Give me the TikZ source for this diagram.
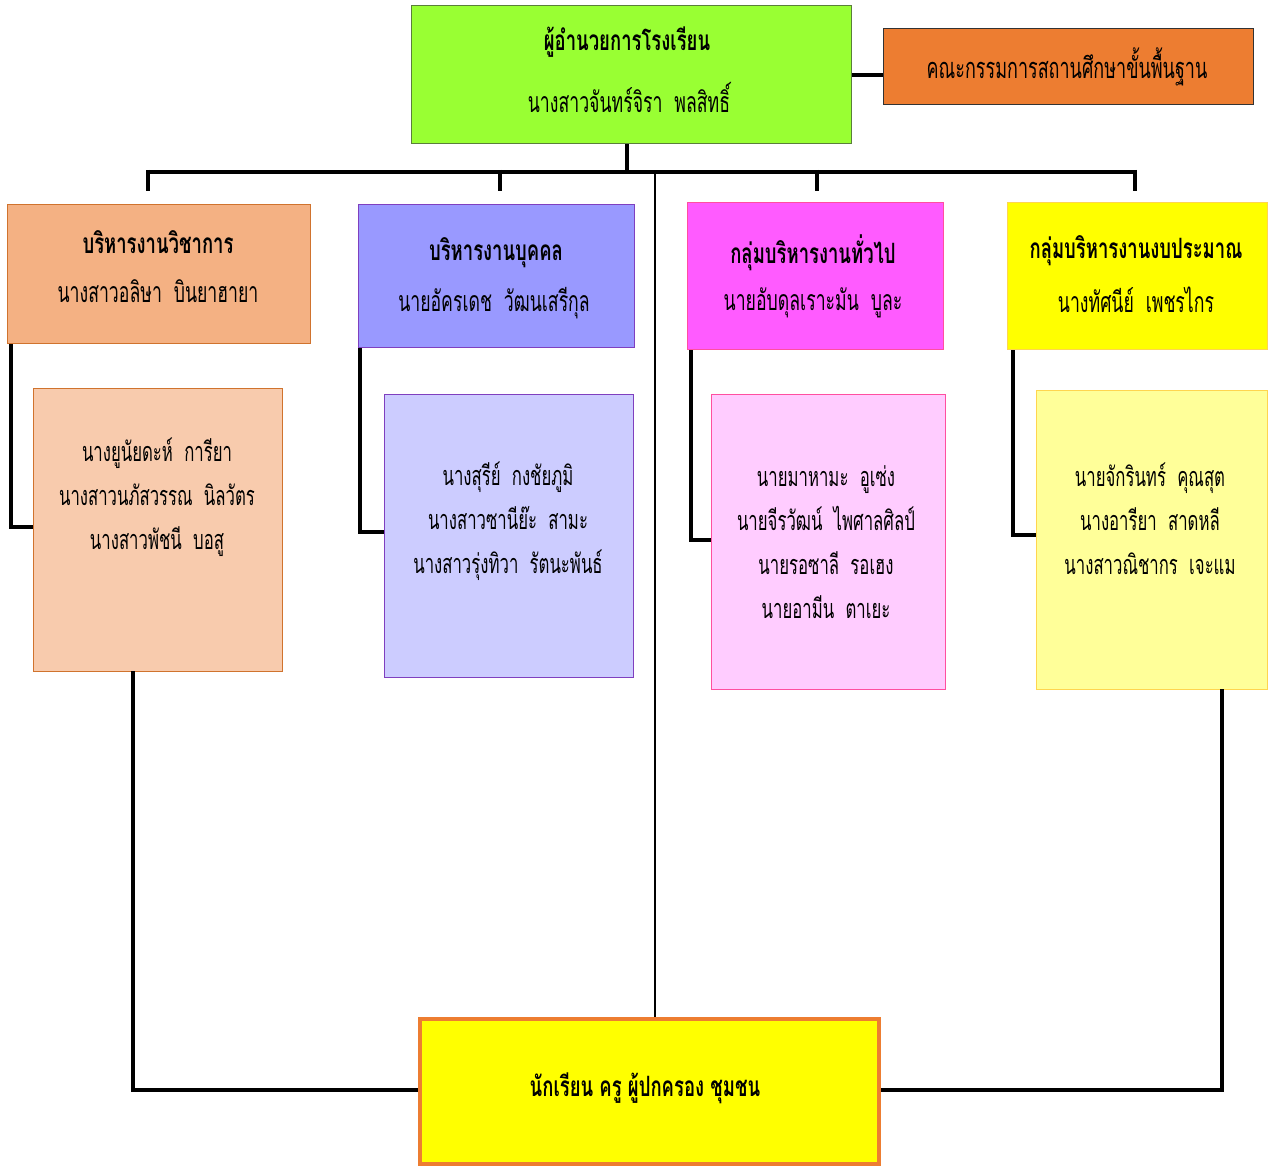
\documentclass[tikz,border=0pt]{standalone}
\usepackage{fontspec}
\newfontfamily\thaiR[Script=Thai,FakeStretch=0.62]{Loma}
\newfontfamily\thaiB[Script=Thai,FakeStretch=0.66]{Loma}
\definecolor{cDir}{HTML}{99FF33}
\definecolor{cDirB}{HTML}{5A7F3A}
\definecolor{cCom}{HTML}{ED7D31}
\definecolor{cA}{HTML}{F4B183}
\definecolor{cAB}{HTML}{D0732E}
\definecolor{cAs}{HTML}{F8CBAD}
\definecolor{cB}{HTML}{9999FF}
\definecolor{cBB}{HTML}{7F3FBF}
\definecolor{cBs}{HTML}{CCCCFF}
\definecolor{cC}{HTML}{FF5BFF}
\definecolor{cCB}{HTML}{FF4FA0}
\definecolor{cCs}{HTML}{FFCCFF}
\definecolor{cD}{HTML}{FFFF00}
\definecolor{cDB}{HTML}{FFD54F}
\definecolor{cDs}{HTML}{FFFF99}
\tikzset{
  box/.style={draw, line width=1.2pt, anchor=north west, inner sep=0pt},
  ttl/.style={font=\thaiB\bfseries\fontsize{28}{32}\selectfont, inner sep=0pt},
  nm/.style={font=\thaiR\fontsize{27}{44}\selectfont, inner sep=0pt},
  hnm/.style={font=\thaiR\fontsize{28.5}{32}\selectfont, inner sep=0pt},
  bus/.style={line width=4pt},
  brk/.style={line width=3.5pt},
  thin/.style={line width=2.2pt},
}
\begin{document}
\begin{tikzpicture}[x=1pt,y=-1pt]
\useasboundingbox[fill=white] (0,0) rectangle (1268,1166);
% boxes
\node[box, fill=cDir, draw=cDirB, minimum width=440pt, minimum height=138pt] (dir) at (411,5) {};
\node[box, fill=cCom, draw=black!80, minimum width=370pt, minimum height=76pt] (com) at (883,28) {};
\node[box, fill=cA, draw=cAB, minimum width=303pt, minimum height=139pt] (a) at (7,204) {};
\node[box, fill=cB, draw=cBB, minimum width=276pt, minimum height=143pt] (b) at (358,204) {};
\node[box, fill=cC, draw=cCB, minimum width=256pt, minimum height=147pt] (c) at (687,202) {};
\node[box, fill=cD, draw=cDB, minimum width=260pt, minimum height=147pt] (d) at (1007,202) {};
\node[box, fill=cAs, draw=cAB, minimum width=249pt, minimum height=283pt] (as) at (33,388) {};
\node[box, fill=cBs, draw=cBB, minimum width=249pt, minimum height=283pt] (bs) at (384,394) {};
\node[box, fill=cCs, draw=cCB, minimum width=234pt, minimum height=295pt] (cs) at (711,394) {};
\node[box, fill=cDs, draw=cDB, minimum width=231pt, minimum height=299pt] (ds) at (1036,390) {};
\node[box, fill=cD, draw=cCom, line width=3.5pt, minimum width=459pt, minimum height=145pt] (bot) at (418,1017) {};
% connectors
\draw[bus] (dir.east) -- (dir.east -| com.west);
\coordinate (j) at (627,172);
\draw[bus] (dir.south -| j) -- (j);
\coordinate (bl) at (146,172);
\coordinate (br) at (1137,172);
\draw[bus] (bl) -- (br);
\coordinate (ta) at (148,191);
\coordinate (tb) at (500,191);
\coordinate (tc) at (817,191);
\coordinate (td) at (1135,191);
\draw[bus] (148,170) -- (ta);
\draw[bus] (500,170) -- (tb);
\draw[bus] (817,170) -- (tc);
\draw[bus] (1135,170) -- (td);
\coordinate (vc) at (655,172);
\draw[thin] (vc) -- (bot.north -| vc);
% brackets
\draw[brk] (a.south west) ++(4,0) coordinate (a1) -- (a1 |- 0,527) -- (as.west |- 0,527);
\draw[brk] (b.south west) ++(2,0) coordinate (b1) -- (b1 |- 0,532) -- (bs.west |- 0,532);
\draw[brk] (c.south west) ++(4,0) coordinate (c1) -- (c1 |- 0,540) -- (cs.west |- 0,540);
\draw[brk] (d.south west) ++(6,0) coordinate (d1) -- (d1 |- 0,535) -- (ds.west |- 0,535);
% bottom links
\coordinate (la) at (133,671);
\coordinate (ld) at (1222,689);
\draw[brk] (la) -- (133,1090) -- (bot.west |- 0,1090);
\draw[brk] (ld) -- (1222,1090) -- (bot.east |- 0,1090);
% texts
\node[ttl] (t1) at (627,42) {ผู้อำนวยการโรงเรียน};
\node[hnm] (t2) at (629,97) {นางสาวจันทร์จิรา\ \ พลสิทธิ์};
\node[hnm, font=\thaiR\fontsize{29}{32}\selectfont] (t3) at (1067,67) {คณะกรรมการสถานศึกษาขั้นพื้นฐาน};
\node[ttl] (ta1) at (158,242) {บริหารงานวิชาการ};
\node[hnm] (ta2) at (158,291) {นางสาวอลิษา\ \ บินยาฮายา};
\node[ttl] (tb1) at (496,253) {บริหารงานบุคคล};
\node[hnm] (tb2) at (494,303) {นายอัครเดช\ \ วัฒนเสรีกุล};
\node[ttl] (tc1) at (813,253) {กลุ่มบริหารงานทั่วไป};
\node[hnm] (tc2) at (813,303) {นายอับดุลเราะมัน\ \ บูละ};
\node[ttl] (td1) at (1136,251) {กลุ่มบริหารงานงบประมาณ};
\node[hnm] (td2) at (1136,300) {นางทัศนีย์\ \ เพชรไกร};
\node[nm, align=center] (tas) at (157,497) {นางยูนัยดะห์\ \ การียา\\นางสาวนภัสวรรณ\ \ นิลวัตร\\นางสาวพัชนี\ \ บอสู};
\node[nm, align=center] (tbs) at (508,521) {นางสุรีย์\ \ กงชัยภูมิ\\นางสาวซานีย๊ะ\ \ สามะ\\นางสาวรุ่งทิวา\ \ รัตนะพันธ์};
\node[nm, align=center] (tcs) at (826,542) {นายมาหามะ\ \ อูเซ่ง\\นายจีรวัฒน์\ \ ไพศาลศิลป์\\นายรอซาลี\ \ รอเฮง\\นายอามีน\ \ ตาเยะ};
\node[nm, align=center] (tds) at (1150,519) {นายจักรินทร์\ \ คุณสุต\\นางอารียา\ \ สาดหลี\\นางสาวณิชากร\ \ เจะแม};
\node[ttl] (tbot) at (645,1088) {นักเรียน ครู ผู้ปกครอง ชุมชน};
\end{tikzpicture}
\end{document}
